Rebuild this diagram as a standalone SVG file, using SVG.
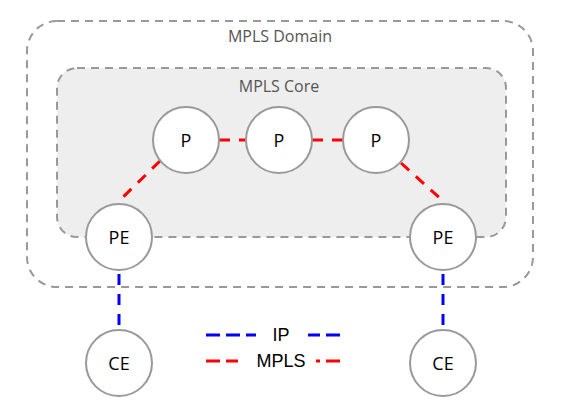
<svg xmlns="http://www.w3.org/2000/svg" width="566" height="403" viewBox="0 0 566 403">
<style>
.grp{fill:none;stroke:#999;stroke-width:2;stroke-dasharray:8,6}
.core{fill:#eeeeee}
.gl{font-family:"Open Sans",sans-serif;font-size:16px;fill:#555;text-anchor:middle}
.node circle{fill:#fff;stroke:#999;stroke-width:2}
.node text{font-family:"Open Sans",sans-serif;font-size:18px;fill:#000;text-anchor:middle;dominant-baseline:central}
.mpls{stroke:#ff0000;stroke-width:3;stroke-dasharray:11,9;fill:none}
.ip{stroke:#0000ff;stroke-width:3;stroke-dasharray:11,9;fill:none}
.lg{font-family:"Liberation Sans",Arial,sans-serif;font-size:18px;fill:#000;text-anchor:middle;dominant-baseline:central}
</style>
<rect width="566" height="403" fill="#fff"/>
<g id="domain">
<rect class="grp" x="27" y="21" width="506" height="266" rx="30" ry="30"/>
<text class="gl" x="280" y="42">MPLS Domain</text>
</g>
<g id="core">
<rect class="grp core" x="57" y="68" width="449" height="169" rx="20" ry="20"/>
<text class="gl" x="279" y="92">MPLS Core</text>
</g>
<g id="connectors">
<line class="mpls" x1="219" y1="140" x2="246" y2="140"/>
<line class="mpls" x1="312" y1="140" x2="343" y2="140"/>
<line class="mpls" x1="160" y1="161" x2="118" y2="202"/>
<line class="mpls" x1="401" y1="163" x2="443" y2="201"/>
<line class="ip" x1="119" y1="274" x2="119" y2="330"/>
<line class="ip" x1="443" y1="274" x2="443" y2="330"/>
</g>
<g id="P1" class="node"><circle cx="186" cy="140" r="33"/><text x="186" y="140">P</text></g>
<g id="P2" class="node"><circle cx="279" cy="140" r="33"/><text x="279" y="140">P</text></g>
<g id="P3" class="node"><circle cx="376" cy="140" r="33"/><text x="376" y="140">P</text></g>
<g id="PE1" class="node"><circle cx="119" cy="237" r="33"/><text x="119" y="237">PE</text></g>
<g id="PE2" class="node"><circle cx="443" cy="237" r="33"/><text x="443" y="237">PE</text></g>
<g id="CE1" class="node"><circle cx="119" cy="363" r="33"/><text x="119" y="363">CE</text></g>
<g id="CE2" class="node"><circle cx="443" cy="363" r="33"/><text x="443" y="363">CE</text></g>
<g id="legend">
<line x1="206" y1="335" x2="343" y2="335" stroke="#0000ff" stroke-width="3" stroke-dasharray="14,6"/>
<rect x="256" y="325" width="52" height="20" fill="#fff"/>
<text class="lg" x="281" y="335">IP</text>
<line x1="206" y1="361" x2="343" y2="361" stroke="#ff0000" stroke-width="3" stroke-dasharray="14,6"/>
<rect x="238" y="351" width="78" height="20" fill="#fff"/>
<text class="lg" x="281" y="361">MPLS</text>
</g>
</svg>
